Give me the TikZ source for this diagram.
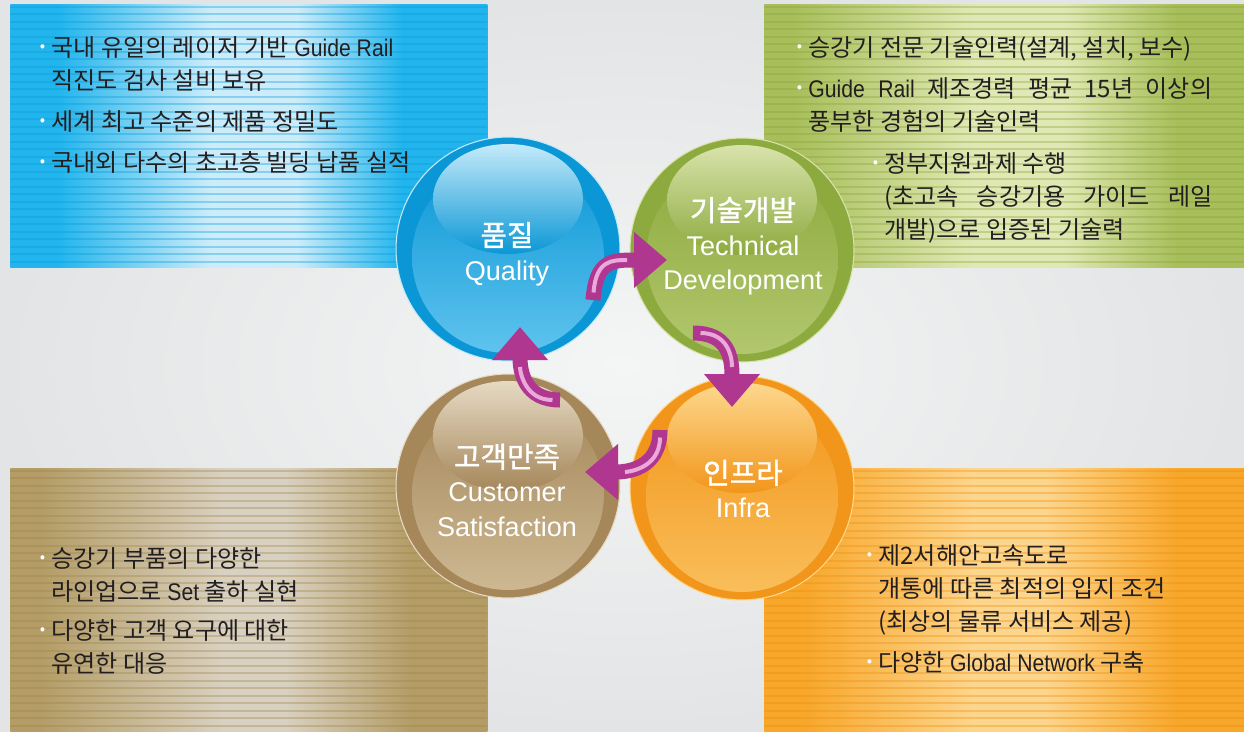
\documentclass[tikz,border=0pt]{standalone}
\usepackage{fontspec}
\setmainfont{Noto Sans CJK KR}
\newfontfamily\latfont{Liberation Sans}
\newfontfamily\latnarrow[FakeStretch=0.88]{Liberation Sans}
\newfontfamily\korball[FakeBold=1.2]{Noto Sans CJK KR}
\usetikzlibrary{arrows.meta, calc, positioning}
\definecolor{bgin}{HTML}{F4F5F5}
\definecolor{bgout}{HTML}{E3E4E5}
\definecolor{textdark}{HTML}{231F20}
\definecolor{qbase}{HTML}{0B97D6}
\definecolor{qlight}{HTML}{C4EAF9}
\definecolor{qglow}{HTML}{5FC3EE}
\definecolor{tbase}{HTML}{8DAA3E}
\definecolor{tlight}{HTML}{D8E3AB}
\definecolor{tglow}{HTML}{B2C76E}
\definecolor{ibase}{HTML}{F2961B}
\definecolor{ilight}{HTML}{FDD88E}
\definecolor{iglow}{HTML}{F9BE5A}
\definecolor{cbase}{HTML}{A5875A}
\definecolor{clight}{HTML}{E6DAC4}
\definecolor{cglow}{HTML}{CDB892}
\definecolor{qedge}{HTML}{22B5ED}
\definecolor{qpale}{HTML}{CDECFA}
\definecolor{qline}{HTML}{0A9AD6}
\definecolor{tedge}{HTML}{A8BE5B}
\definecolor{tpale}{HTML}{E0E9B6}
\definecolor{tline}{HTML}{8AA236}
\definecolor{iedge}{HTML}{F7A72A}
\definecolor{ipale}{HTML}{FDD68E}
\definecolor{iline}{HTML}{EE8D10}
\definecolor{cedge}{HTML}{B39C66}
\definecolor{cpale}{HTML}{D8D0C0}
\definecolor{cline}{HTML}{9E8446}
\definecolor{arrowmag}{HTML}{B0378F}
\definecolor{arrowpink}{HTML}{EBA8DA}
\pgfdeclarehorizontalshading{qshade}{100bp}{color(0bp)=(qedge); color(30bp)=(qedge); color(46bp)=(qpale); color(55bp)=(qpale); color(66bp)=(qedge); color(100bp)=(qedge)}
\pgfdeclarehorizontalshading{tshade}{100bp}{color(0bp)=(tedge); color(28bp)=(tedge); color(47bp)=(tpale); color(56bp)=(tpale); color(68bp)=(tedge); color(100bp)=(tedge)}
\pgfdeclarehorizontalshading{ishade}{100bp}{color(0bp)=(iedge); color(29bp)=(iedge); color(47bp)=(ipale); color(54bp)=(ipale); color(68bp)=(iedge); color(100bp)=(iedge)}
\pgfdeclarehorizontalshading{cshade}{100bp}{color(0bp)=(cedge); color(28bp)=(cedge); color(47bp)=(cpale); color(54bp)=(cpale); color(67bp)=(cedge); color(100bp)=(cedge)}
\tikzset{infobox/.style={rectangle, inner sep=0pt, minimum height=5.26cm, shade, shading=#1shade,
  path picture={\foreach \k in {0,...,37} \draw[#1line, line width=0.04cm, opacity=0.35]
    ([yshift=-\k*0.15cm-0.05cm]path picture bounding box.north west) -- ([yshift=-\k*0.15cm-0.05cm]path picture bounding box.north east);}}}
\tikzstyle{ball} = [circle, minimum size=4.48cm, inner sep=0pt, line width=0.6pt]
\tikzstyle{boxtext} = [rectangle, inner sep=0pt, align=left, text=textdark, font={\fontsize{13.7}{18.8}\selectfont}]
\tikzstyle{balltext} = [rectangle, inner sep=0pt, align=center, text=white, font={\latfont\fontsize{15.4}{19.5}\selectfont}]
\tikzstyle{cyclearrow} = [draw=arrowmag, line width=0.3cm, -{Triangle[width=1.08cm, length=0.66cm]},
  postaction={draw=arrowpink, line width=0.08cm, -, shorten >=0.8cm, shorten <=0.15cm}]
\newcommand{\lat}[1]{{\latnarrow #1}}
\newcommand{\kor}[1]{{\korball\fontsize{16.4}{19.5}\selectfont #1}}
\newcommand{\dotmark}{\llap{\raisebox{2.6pt}{\textcolor{white}{\fontsize{9}{9}\selectfont •}}\hspace{3.5pt}}}
\begin{document}
\begin{tikzpicture}[x=0.02cm, y=-0.02cm]
\useasboundingbox (0,0) rectangle (1244,731);
\shade[inner color=bgin, outer color=bgout] (0,0) rectangle (1244,731);
\node (qualitybox) [infobox=q, anchor=north west, minimum width=9.54cm] at (10,4) {};
\node (techbox) [infobox=t, anchor=north west, minimum width=9.6cm] at (764,4) {};
\node (custbox) [infobox=c, anchor=north west, minimum width=9.54cm] at (10,468) {};
\node (infrabox) [infobox=i, anchor=north west, minimum width=9.6cm] at (764,468) {};
\node (qualitytext) [boxtext, anchor=north west] at (51,36) {\dotmark 국내 유일의 레이저 기반 \lat{Guide Rail}\\ 직진도 검사 설비 보유\\[4.5pt] \dotmark 세계 최고 수준의 제품 정밀도\\[4.5pt] \dotmark 국내외 다수의 초고층 빌딩 납품 실적};
\node (techtext) [boxtext, anchor=north west] at (808,36) {\dotmark 승강기 전문 기술인력(설계, 설치, 보수)\\[4.5pt] \dotmark\makebox[8.08cm][s]{\lat{Guide Rail} 제조경력 평균 15년 이상의}\\ 풍부한 경험의 기술인력};
\node (techsub) [boxtext, anchor=north west] at (884,152) {\dotmark 정부지원과제 수행\\ \makebox[6.56cm][s]{(초고속 승강기용 가이드 레일}\\ 개발)으로 입증된 기술력};
\node (custtext) [boxtext, anchor=north west] at (51,547) {\dotmark 승강기 부품의 다양한\\ 라인업으로 \lat{Set} 출하 실현\\[3.5pt] \dotmark 다양한 고객 요구에 대한\\ 유연한 대응};
\node (infratext) [boxtext, anchor=north west] at (878,544) {\dotmark 제2서해안고속도로\\ 개통에 따른 최적의 입지 조건\\ (최상의 물류 서비스 제공)\\[4.5pt] \dotmark 다양한 \lat{Global Network} 구축};
\node (quality) [ball, fill=qbase, draw=qlight] at (508,249) {};
\node (tech) [ball, fill=tbase, draw=tlight] at (742,250) {};
\node (customer) [ball, fill=cbase, draw=clight] at (508,486) {};
\node (infra) [ball, fill=ibase, draw=ilight] at (742,488) {};
\foreach \b/\base/\light/\glow in {quality/qbase/qlight/qglow, tech/tbase/tlight/tglow, customer/cbase/clight/cglow, infra/ibase/ilight/iglow} {
  \shade[top color=\base, middle color=\base, bottom color=\glow] ($(\b.center)+(0,8)$) circle[radius=1.92cm];
  \shade[top color=\light, bottom color=\base] ($(\b.center)+(0,-50)$) ellipse[x radius=1.5cm, y radius=1.1cm];
}
\draw[cyclearrow] ($(quality.center)+(85,51)$) .. controls +(3,-40) and +(-55,0) .. ($(tech.center)+(-75,10)$);
\draw[cyclearrow] ($(tech.center)+(-49,83)$) .. controls +(35,0) and +(0,-50) .. ($(infra.center)+(-10,-81)$);
\draw[cyclearrow] ($(infra.center)+(-82,-58)$) .. controls +(0,40) and +(40,0) .. ($(customer.center)+(77,-14)$);
\draw[cyclearrow] ($(customer.center)+(52,-86)$) .. controls +(-35,0) and +(0,45) .. ($(quality.center)+(12,78)$);
\node (qualitylabel) [balltext] at (507,254) {\kor{품질}\\ Quality};
\node (techlabel) [balltext] at (743,246) {\kor{기술개발}\\ Technical\\ Development};
\node (custlabel) [balltext] at (507,490) {\kor{고객만족}\\ Customer\\ Satisfaction};
\node (infralabel) [balltext] at (743,489) {\kor{인프라}\\ Infra};
\end{tikzpicture}
\end{document}
